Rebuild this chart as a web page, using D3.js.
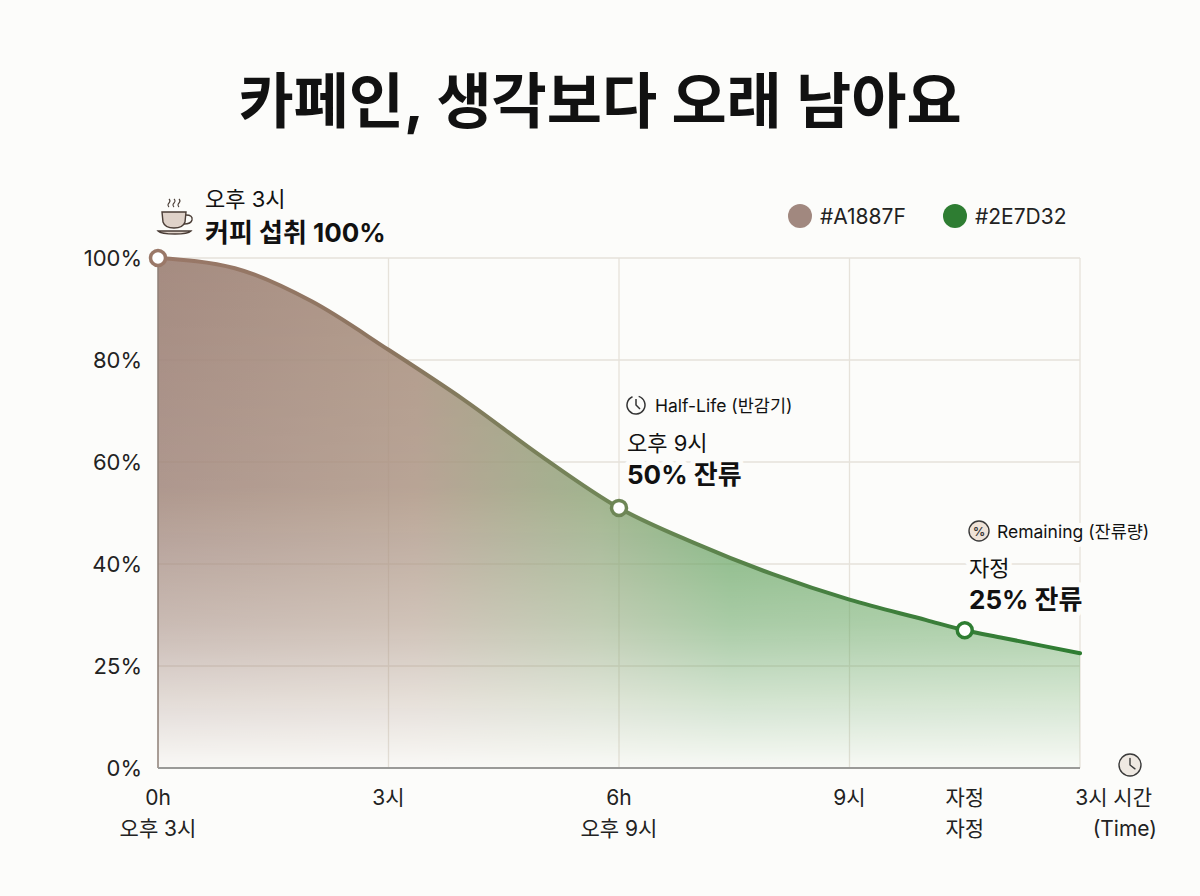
<!DOCTYPE html>
<html>
<head>
<meta charset="utf-8">
<script src="https://cdn.jsdelivr.net/npm/d3@7"></script>
<style>
  html, body { margin: 0; padding: 0; background: #fcfcfa; }
  svg { display: block; font-family: Inter, "Noto Sans CJK KR", "Noto Sans", sans-serif; }
</style>
</head>
<body>
<div id="viz"></div>
<script>
// caffeine remaining after a 3pm coffee
const hours = [0, 1, 2, 3, 4, 5, 6, 7, 8, 9, 10, 10.5, 11, 12];
const remaining = [100, 98, 91.5, 82, 72, 61, 51, 44, 38, 33, 29, 27, 25.5, 22.5];

const yTicks = [0, 20, 40, 60, 80, 100];
const yTickLabels = ["0%", "25%", "40%", "60%", "80%", "100%"];

const xTicks = [0, 3, 6, 9, 10.5, 12];
const xTickTop = ["0h", "3시", "6h", "9시", "자정", "3시 시간"];
const xTickBottom = ["오후 3시", "", "오후 9시", "", "자정", "(Time)"];
const gridHours = [3, 6, 9, 12];

const markerHours = [0, 6, 10.5];
const markerColors = ["#9a7868", "#6e8656", "#2E7D32"];

const legendItems = ["#A1887F", "#2E7D32"];

const WIDTH = 1200, HEIGHT = 896;
const margin = { top: 258, right: 120, bottom: 128, left: 158 };

const svg = d3.select("#viz").append("svg")
  .attr("width", WIDTH)
  .attr("height", HEIGHT)
  .attr("viewBox", `0 0 ${WIDTH} ${HEIGHT}`);

svg.append("rect").attr("width", WIDTH).attr("height", HEIGHT).attr("fill", "#fcfcfa");

const x = d3.scaleLinear().domain([0, 12]).range([margin.left, WIDTH - margin.right]);
const y = d3.scaleLinear().domain([0, 100]).range([HEIGHT - margin.bottom, margin.top]);
const data = hours.map((h, i) => ({ h, v: remaining[i] }));

// gradients
const defs = svg.append("defs");
const fillGrad = defs.append("linearGradient").attr("id", "fillGrad")
  .attr("gradientUnits", "userSpaceOnUse")
  .attr("x1", x(0)).attr("x2", x(12)).attr("y1", 0).attr("y2", 0);
[["0%", "#a0857a"], ["28%", "#ac9483"], ["48%", "#8fa67a"], ["62%", "#66a462"], ["100%", "#70ae6c"]]
  .forEach(([o, c]) => fillGrad.append("stop").attr("offset", o).attr("stop-color", c));

const fadeGrad = defs.append("linearGradient").attr("id", "fadeGrad")
  .attr("gradientUnits", "userSpaceOnUse")
  .attr("x1", 0).attr("x2", 0).attr("y1", y(100)).attr("y2", y(0));
[["0%", 0.95], ["45%", 0.85], ["72%", 0.55], ["100%", 0.03]]
  .forEach(([o, a]) => fadeGrad.append("stop").attr("offset", o).attr("stop-color", "#fff").attr("stop-opacity", a));
defs.append("mask").attr("id", "fadeMask")
  .append("rect").attr("x", 0).attr("y", 0).attr("width", WIDTH).attr("height", HEIGHT)
  .attr("fill", "url(#fadeGrad)");

const lineGrad = defs.append("linearGradient").attr("id", "lineGrad")
  .attr("gradientUnits", "userSpaceOnUse")
  .attr("x1", x(0)).attr("x2", x(12)).attr("y1", 0).attr("y2", 0);
[["0%", "#9a7868"], ["25%", "#8c7560"], ["50%", "#6e8656"], ["75%", "#427f3e"], ["100%", "#2E7D32"]]
  .forEach(([o, c]) => lineGrad.append("stop").attr("offset", o).attr("stop-color", c));

// title
svg.append("text")
  .attr("x", WIDTH / 2)
  .attr("y", 123)
  .attr("text-anchor", "middle")
  .style("font-size", "60px")
  .style("font-weight", "bold")
  .attr("fill", "#111")
  .text("카페인, 생각보다 오래 남아요");

// grid
const grid = svg.append("g");
grid.selectAll(".hgrid").data(yTicks.filter(d => d > 0)).join("line")
  .attr("x1", x(0)).attr("x2", x(12))
  .attr("y1", d => y(d)).attr("y2", d => y(d))
  .attr("stroke", "#e6e2da").attr("stroke-width", 1.3);
grid.selectAll(".vgrid").data(gridHours).join("line")
  .attr("x1", d => x(d)).attr("x2", d => x(d))
  .attr("y1", y(100)).attr("y2", y(0))
  .attr("stroke", "#e6e2da").attr("stroke-width", 1.3);

// area + line
const area = d3.area().x(d => x(d.h)).y0(y(0)).y1(d => y(d.v)).curve(d3.curveMonotoneX);
const line = d3.line().x(d => x(d.h)).y(d => y(d.v)).curve(d3.curveMonotoneX);

svg.append("path").datum(data)
  .attr("d", area)
  .attr("fill", "url(#fillGrad)")
  .attr("mask", "url(#fadeMask)");

// axes lines
svg.append("line")
  .attr("x1", x(0)).attr("x2", x(0)).attr("y1", y(100)).attr("y2", y(0))
  .attr("stroke", "#8e7f76").attr("stroke-width", 1.5);
svg.append("line")
  .attr("x1", x(0)).attr("x2", x(12)).attr("y1", y(0)).attr("y2", y(0))
  .attr("stroke", "#9a9a98").attr("stroke-width", 1.8);

svg.append("path").datum(data)
  .attr("d", line)
  .attr("fill", "none")
  .attr("stroke", "url(#lineGrad)")
  .attr("stroke-width", 4)
  .attr("stroke-linecap", "round");

// y tick labels
svg.selectAll(".ylab").data(yTicks).join("text")
  .attr("x", x(0) - 16)
  .attr("y", d => y(d) + 8)
  .attr("text-anchor", "end")
  .style("font-size", "22px")
  .attr("fill", "#222")
  .text((d, i) => yTickLabels[i]);

// x tick labels
const xl = svg.append("g");
xTicks.forEach((t, i) => {
  const last = i === xTicks.length - 1;
  xl.append("text")
    .attr("x", last ? x(t) + 72 : x(t))
    .attr("y", 805)
    .attr("text-anchor", last ? "end" : "middle")
    .style("font-size", "21px")
    .attr("fill", "#222")
    .text(xTickTop[i]);
  if (xTickBottom[i]) {
    xl.append("text")
      .attr("x", last ? x(t) + 77 : x(t))
      .attr("y", 836)
      .attr("text-anchor", last ? "end" : "middle")
      .style("font-size", "21px")
      .attr("fill", "#222")
      .text(xTickBottom[i]);
  }
});

// clock icon at the time axis end
function clockIcon(g, cx, cy, r) {
  g.append("circle").attr("cx", cx).attr("cy", cy).attr("r", r)
    .attr("fill", "#efe9e2").attr("stroke", "#3a3a3a").attr("stroke-width", 1.4);
  g.append("path")
    .attr("d", `M${cx},${cy - r * 0.6} L${cx},${cy} L${cx + r * 0.45},${cy + r * 0.35}`)
    .attr("fill", "none").attr("stroke", "#3a3a3a").attr("stroke-width", 1.4)
    .attr("stroke-linecap", "round");
}
clockIcon(svg, 1130, 765, 11);

// markers
svg.selectAll(".marker").data(markerHours).join("circle")
  .attr("cx", d => x(d))
  .attr("cy", d => y(remaining[hours.indexOf(d)]))
  .attr("r", 7.5)
  .attr("fill", "#fff")
  .attr("stroke", (d, i) => markerColors[i])
  .attr("stroke-width", 3.5);

// annotations
function halo(sel) {
  return sel.attr("stroke", "#fcfcfa").attr("stroke-width", 10)
    .attr("stroke-linejoin", "round").style("paint-order", "stroke");
}
function addText(tx, ty, str, size, weight) {
  return halo(svg.append("text")
    .attr("x", tx).attr("y", ty)
    .style("font-size", size + "px")
    .style("font-weight", weight || "normal")
    .attr("fill", "#111")
    .text(str));
}

// coffee annotation
const cup = svg.append("g").attr("transform", "translate(176,218)");
cup.append("path")
  .attr("d", "M-14,-6 L10,-6 L9,4 Q7,10 -2,10 Q-11,10 -13,4 Z")
  .attr("fill", "#dfd2c9").attr("stroke", "#4a3d36").attr("stroke-width", 1.4);
cup.append("path")
  .attr("d", "M10,-3 Q17,-3 16,2 Q15,6 8,6")
  .attr("fill", "none").attr("stroke", "#4a3d36").attr("stroke-width", 1.4);
cup.append("path")
  .attr("d", "M-18,13 L15,13 Q12,16 -1,16 Q-15,16 -18,13 Z")
  .attr("fill", "#dfd2c9").attr("stroke", "#4a3d36").attr("stroke-width", 1.3);
[-7, -2, 3].forEach(dx => {
  cup.append("path")
    .attr("d", `M${dx},-11 q-2,-2 0,-4 q2,-2 0,-4`)
    .attr("fill", "none").attr("stroke", "#4a3d36").attr("stroke-width", 1.1);
});
addText(205, 207, "오후 3시", 22);
addText(205, 242, "커피 섭취 100%", 26, "bold");

// half-life annotation
const hl = svg.append("g");
hl.append("path")
  .attr("d", d3.arc()({ innerRadius: 9, outerRadius: 9, startAngle: 0.3, endAngle: 2 * Math.PI - 0.4 }))
  .attr("transform", "translate(636,405)")
  .attr("fill", "none").attr("stroke", "#333").attr("stroke-width", 1.5);
hl.append("path").attr("d", "M636,399 L636,405 L640,409")
  .attr("fill", "none").attr("stroke", "#333").attr("stroke-width", 1.5);
addText(655, 412, "Half-Life (반감기)", 17.5);
addText(627, 451, "오후 9시", 22);
addText(627, 484, "50% 잔류", 26, "bold");

// remaining annotation
svg.append("circle").attr("cx", 979).attr("cy", 531).attr("r", 10)
  .attr("fill", "#efe3d8").attr("stroke", "#3a3a3a").attr("stroke-width", 1.4);
svg.append("text").attr("x", 979).attr("y", 535.5)
  .attr("text-anchor", "middle")
  .style("font-size", "12px").style("font-weight", "bold")
  .attr("fill", "#3a3a3a").text("%");
addText(997, 538, "Remaining (잔류량)", 17.5);
addText(969, 576, "자정", 22);
addText(969, 609, "25% 잔류", 26, "bold");

// legend
const legend = svg.append("g");
const legendX = [800, 955];
legendItems.forEach((c, i) => {
  legend.append("circle").attr("cx", legendX[i]).attr("cy", 216).attr("r", 12).attr("fill", c);
  legend.append("text")
    .attr("x", legendX[i] + 20).attr("y", 224)
    .style("font-size", "21px").attr("fill", "#222")
    .text(c);
});
</script>
</body>
</html>
